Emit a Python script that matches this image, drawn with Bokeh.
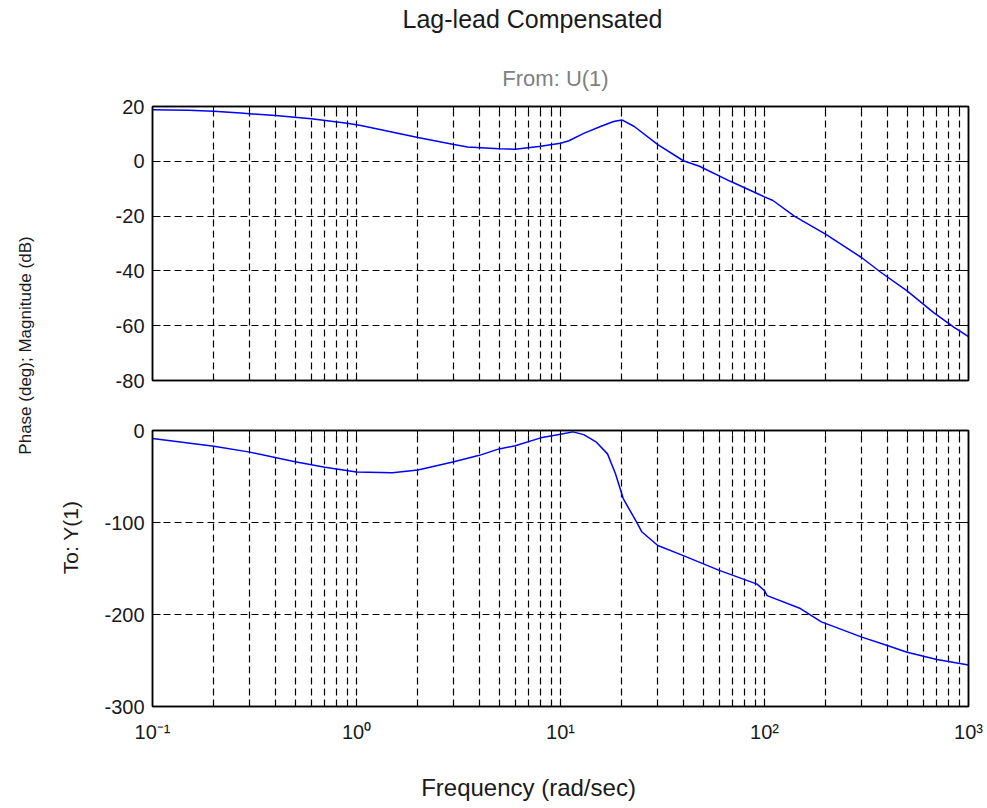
import math
from bokeh.plotting import figure
from bokeh.models import (FixedTicker, LogAxis, LinearAxis, Label, Range1d,
                          CustomJSTickFormatter)
from bokeh.layouts import row, column
from bokeh.embed import file_html
from bokeh.resources import INLINE

FONT = "Liberation Sans"

# ---- data ----
mag_w = [0.1, 0.15, 0.2, 0.27, 0.4, 0.6, 0.9, 1.05, 2.0, 3.0, 3.5, 5.0, 6.0,
         8.0, 10, 11, 13, 15.7, 18.2, 20, 23, 30, 40, 48, 68, 100, 110, 140,
         200, 300, 370, 500, 675, 850, 1000]
mag_db = [18.8, 18.6, 18.3, 17.6, 16.7, 15.5, 13.9, 13.1, 8.7, 6.1, 5.2, 4.6,
          4.4, 5.5, 6.6, 7.5, 10.2, 12.7, 14.5, 15.1, 12.7, 6.1, 0.2, -1.8,
          -7.3, -13.0, -14.3, -20.0, -26.7, -35.2, -40.4, -47.3, -55.2, -60.6,
          -64.0]

ph_w = [0.1, 0.2, 0.3, 0.5, 0.7, 1.0, 1.5, 2, 3, 4, 5, 6, 8, 10, 11.5, 13,
        15, 17, 18.6, 20.3, 23.8, 25, 30, 40, 60, 92, 100, 103, 150, 190, 300,
        400, 500, 700, 1000]
ph_deg = [-8.7, -17, -23.5, -34, -40, -45, -46, -43, -34, -27, -20, -16.6, -8,
          -4.0, -1.5, -4.5, -12.7, -25.4, -47, -74, -101, -110, -125, -136,
          -152, -167, -174, -179.5, -193.5, -208, -224.6, -233.7, -241, -249,
          -255]

decades = [0.1, 1, 10, 100, 1000]
x_tick_labels = ["10\u207b\u00b9", "10\u2070", "10\u00b9", "10\u00b2", "10\u00b3"]
mag_ticks = [-80, -60, -40, -20, 0, 20]
ph_ticks = [-300, -200, -100, 0]

minor = [d * k for d in decades[:-1] for k in range(2, 10)]

TITLE = "Lag-lead Compensated"
FROM_TXT = "From: U(1)"
TO_TXT = "To: Y(1)"
YLABEL = "Phase (deg); Magnitude (dB)"
XLABEL = "Frequency (rad/sec)"

BLUE = "#0000ff"
TXT = "#1a1a1a"

LEFT_W = 88
PANEL_W = 897
FRAME_LEFT = 152  # page x of the plot frames (strips are aligned to it)


def x_formatter():
    return CustomJSTickFormatter(args=dict(dec=decades, labs=x_tick_labels), code="""
        let best = -1, bd = 1e9;
        for (let i = 0; i < dec.length; i++) {
            const d = Math.abs(Math.log10(tick) - Math.log10(dec[i]));
            if (d < bd) { bd = d; best = i; }
        }
        return bd < 1e-6 ? labs[best] : "";
    """)


def y_formatter():
    return CustomJSTickFormatter(code="return String(Math.round(tick));")


def style_axis(ax, show_labels):
    ax.axis_line_color = "black"
    ax.axis_line_width = 1.5
    ax.major_tick_in = 8
    ax.major_tick_out = 0
    ax.minor_tick_in = 5
    ax.minor_tick_out = 0
    ax.major_tick_line_color = "black"
    ax.minor_tick_line_color = "black"
    ax.major_label_text_font = FONT
    if show_labels:
        ax.major_label_text_color = TXT
        ax.major_label_text_font_size = "20px"
    else:
        ax.major_label_text_color = None
        ax.major_label_text_font_size = "0px"
        ax.major_label_standoff = 0


def make_panel(height, yr, yticks, ys, yvals, bt, bb, show_x_labels):
    xt = FixedTicker(ticks=decades, minor_ticks=minor)
    yt = FixedTicker(ticks=yticks)
    p = figure(width=PANEL_W, height=height, x_axis_type="log",
               x_range=Range1d(0.1, 1000), y_range=Range1d(*yr),
               output_backend="svg", toolbar_location=None,
               min_border_left=64, min_border_right=17,
               min_border_top=bt, min_border_bottom=bb)
    p.background_fill_color = "white"
    p.border_fill_color = "white"
    p.outline_line_color = "black"
    p.outline_line_width = 1.5
    p.xaxis.ticker = xt
    p.xaxis.formatter = x_formatter()
    p.yaxis.ticker = yt
    p.yaxis.formatter = y_formatter()
    style_axis(p.xaxis[0], show_x_labels)
    style_axis(p.yaxis[0], True)
    p.xaxis[0].major_label_standoff = 14 if show_x_labels else 0
    p.yaxis[0].major_label_standoff = 8
    top = LogAxis(ticker=xt, formatter=x_formatter())
    style_axis(top, False)
    p.add_layout(top, "above")
    right = LinearAxis(ticker=yt, formatter=y_formatter())
    style_axis(right, False)
    p.add_layout(right, "right")

    p.xgrid.ticker = xt
    p.ygrid.ticker = yt
    for g in (p.xgrid, p.ygrid):
        g.grid_line_color = "black"
        g.grid_line_width = 1.2
        g.grid_line_dash = "7 4"
        g.grid_line_alpha = 1.0
    p.xgrid.minor_grid_line_color = "black"
    p.xgrid.minor_grid_line_width = 1.2
    p.xgrid.minor_grid_line_dash = "7 4"

    p.line(ys, yvals, line_color=BLUE, line_width=1.5)
    return p


def make_strip(width, height):
    s = figure(width=width, height=height, x_range=Range1d(0, 1), y_range=Range1d(0, 1),
               x_axis_location=None, y_axis_location=None,
               output_backend="svg", toolbar_location=None,
               min_border=0, min_border_left=0, min_border_right=0,
               min_border_top=0, min_border_bottom=0)
    s.grid.visible = False
    s.outline_line_color = None
    s.border_fill_color = "white"
    s.background_fill_color = "white"
    return s


# page layout (px): top strip 0-96, p1 96-405, p2 405-750, bottom strip 750-806
TOP_H, BOT_H, LEFT_H = 96, 56, 806
top_strip = make_strip(PANEL_W, TOP_H)
p1 = make_panel(309, (-80, 20), mag_ticks, mag_w, mag_db, 10, 25, False)
p2 = make_panel(345, (-300, 0), ph_ticks, ph_w, ph_deg, 25, 44, True)
bottom_strip = make_strip(PANEL_W, BOT_H)
left = make_strip(LEFT_W, LEFT_H)

# alphabetic baselines render ~10px lower than requested, compensate
top_strip.add_layout(Label(x=532 - FRAME_LEFT, y=TOP_H - 18, x_units="screen",
                           y_units="screen", text=TITLE, text_font=FONT,
                           text_font_size="25px", text_color=TXT,
                           text_align="center", text_baseline="alphabetic"))
top_strip.add_layout(Label(x=555 - FRAME_LEFT, y=TOP_H - 78, x_units="screen",
                           y_units="screen", text=FROM_TXT, text_font=FONT,
                           text_font_size="22px", text_color="#808080",
                           text_align="center", text_baseline="alphabetic"))
bottom_strip.add_layout(Label(x=528 - FRAME_LEFT, y=806 - 787, x_units="screen",
                              y_units="screen", text=XLABEL, text_font=FONT,
                              text_font_size="24px", text_color=TXT,
                              text_align="center", text_baseline="alphabetic"))
left.add_layout(Label(x=25, y=LEFT_H - 345, x_units="screen", y_units="screen", text=YLABEL,
                      text_font=FONT, text_font_size="17px", text_color=TXT,
                      angle=math.pi / 2, text_align="center", text_baseline="middle"))
left.add_layout(Label(x=70, y=LEFT_H - 537, x_units="screen", y_units="screen", text=TO_TXT,
                      text_font=FONT, text_font_size="21px", text_color=TXT,
                      angle=math.pi / 2, text_align="center", text_baseline="middle"))

layout = row(left, column(top_strip, p1, p2, bottom_strip, spacing=0), spacing=0)

open("out.html", "w").write(file_html(layout, INLINE))
